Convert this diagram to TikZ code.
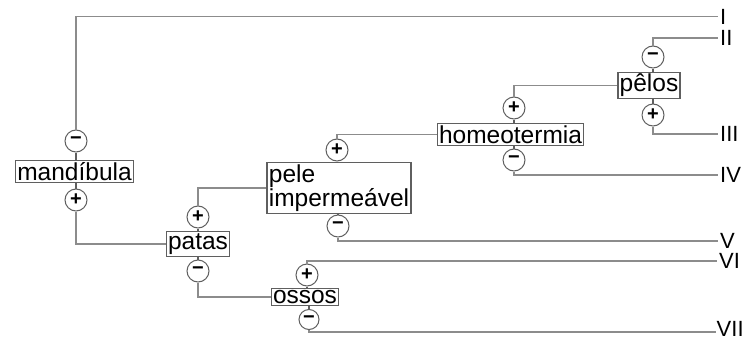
\documentclass[tikz,border=0pt]{standalone}
\usepackage{fontspec}
\setmainfont{Liberation Sans}
\definecolor{linegray}{RGB}{140,140,140}
\definecolor{boxgray}{RGB}{95,95,95}
\tikzset{
  trait/.style={draw=boxgray, line width=1.2pt, fill=white, inner sep=1.8pt,
    font=\fontsize{24.5}{23}\selectfont, text=black},
  signbox/.style={circle, draw=boxgray, line width=1pt, fill=white,
    minimum size=22pt, inner sep=0pt, font=\fontsize{20}{20}\selectfont\bfseries},
  plusc/.style={signbox, node contents={+}},
  minusc/.style={signbox, node contents={−}},
  numeral/.style={anchor=west, inner xsep=2pt, inner ysep=0.5pt, font=\fontsize{22}{22}\selectfont},
  branch/.style={draw=linegray, line width=1.6pt},
  stem/.style={draw=boxgray, line width=1.2pt}
}
\begin{document}
\begin{tikzpicture}[x=1pt, y=-1pt]
\useasboundingbox (0,0) rectangle (746,340);

% character boxes
\node[trait] (mand) at (74.5,171.5) {mandíbula};
\node[trait] (patas) at (198,244) {patas};
\node[trait, align=left] (pele) at (339,188) {pele\\impermeável};
\node[trait] (ossos) at (305,297) {ossos};
\node[trait] (homeo) at (510.5,134.5) {homeotermia};
\node[trait] (pelos) at (649,85.5) {pêlos};

% plus / minus markers
\node (mm) at (76,141) [minusc];
\node (mp) at (76,200) [plusc];
\node (pp) at (198,217) [plusc];
\node (pm) at (198,271) [minusc];
\node (ep) at (337,150) [plusc];
\node (em) at (338,226) [minusc];
\node (op) at (307,275) [plusc];
\node (om) at (309,319.5) [minusc, minimum size=20pt];
\node (hp) at (514,108) [plusc];
\node (hm) at (514,160) [minusc];
\node (lm) at (653,57) [minusc];
\node (lp) at (653,115) [plusc];

% terminal groups
\node[numeral] (nI)   at (718,16.5) {I};
\node[numeral] (nII)  at (718,38)   {II};
\node[numeral] (nIII) at (718,134)  {III};
\node[numeral] (nIV)  at (718,175)  {IV};
\node[numeral] (nV)   at (718,241)  {V};
\node[numeral] (nVI)  at (717,261)  {VI};
\node[numeral, inner xsep=0.5pt] (nVII) at (716,329)  {VII};
\coordinate (eVII) at (716,332);

% short stems between markers and boxes
\draw[stem] (mm) -- (mm |- mand.north);
\draw[stem] (mp) -- (mp |- mand.south);
\draw[stem] (pp) -- (pp |- patas.north);
\draw[stem] (pm) -- (pm |- patas.south);
\draw[stem] (ep) -- (ep |- pele.north);
\draw[stem] (em) -- (em |- pele.south);
\draw[stem] (op) -- (op |- ossos.north);
\draw[stem] (om) -- (om |- ossos.south);
\draw[stem] (hp) -- (hp |- homeo.north);
\draw[stem] (hm) -- (hm |- homeo.south);
\draw[stem] (lm) -- (lm |- pelos.north);
\draw[stem] (lp) -- (lp |- pelos.south);

% branches
\draw[branch] (mm.north) |- (nI.west);
\draw[branch] (mp.south) |- (patas.west);
\draw[branch] (pp.north) |- (pele.west);
\draw[branch] (pm.south) |- (ossos.west);
\draw[branch] (em.south) |- (nV.west);
\draw[branch] (ep.north) |- (homeo.west);
\draw[branch] (op.north) |- (nVI.west);
\draw[branch] (om.south) |- (eVII);
\draw[branch] (hp.north) |- (pelos.west);
\draw[branch] (hm.south) |- (nIV.west);
\draw[branch] (lm.north) |- (nII.west);
\draw[branch] (lp.south) |- (nIII.west);
\end{tikzpicture}
\end{document}
